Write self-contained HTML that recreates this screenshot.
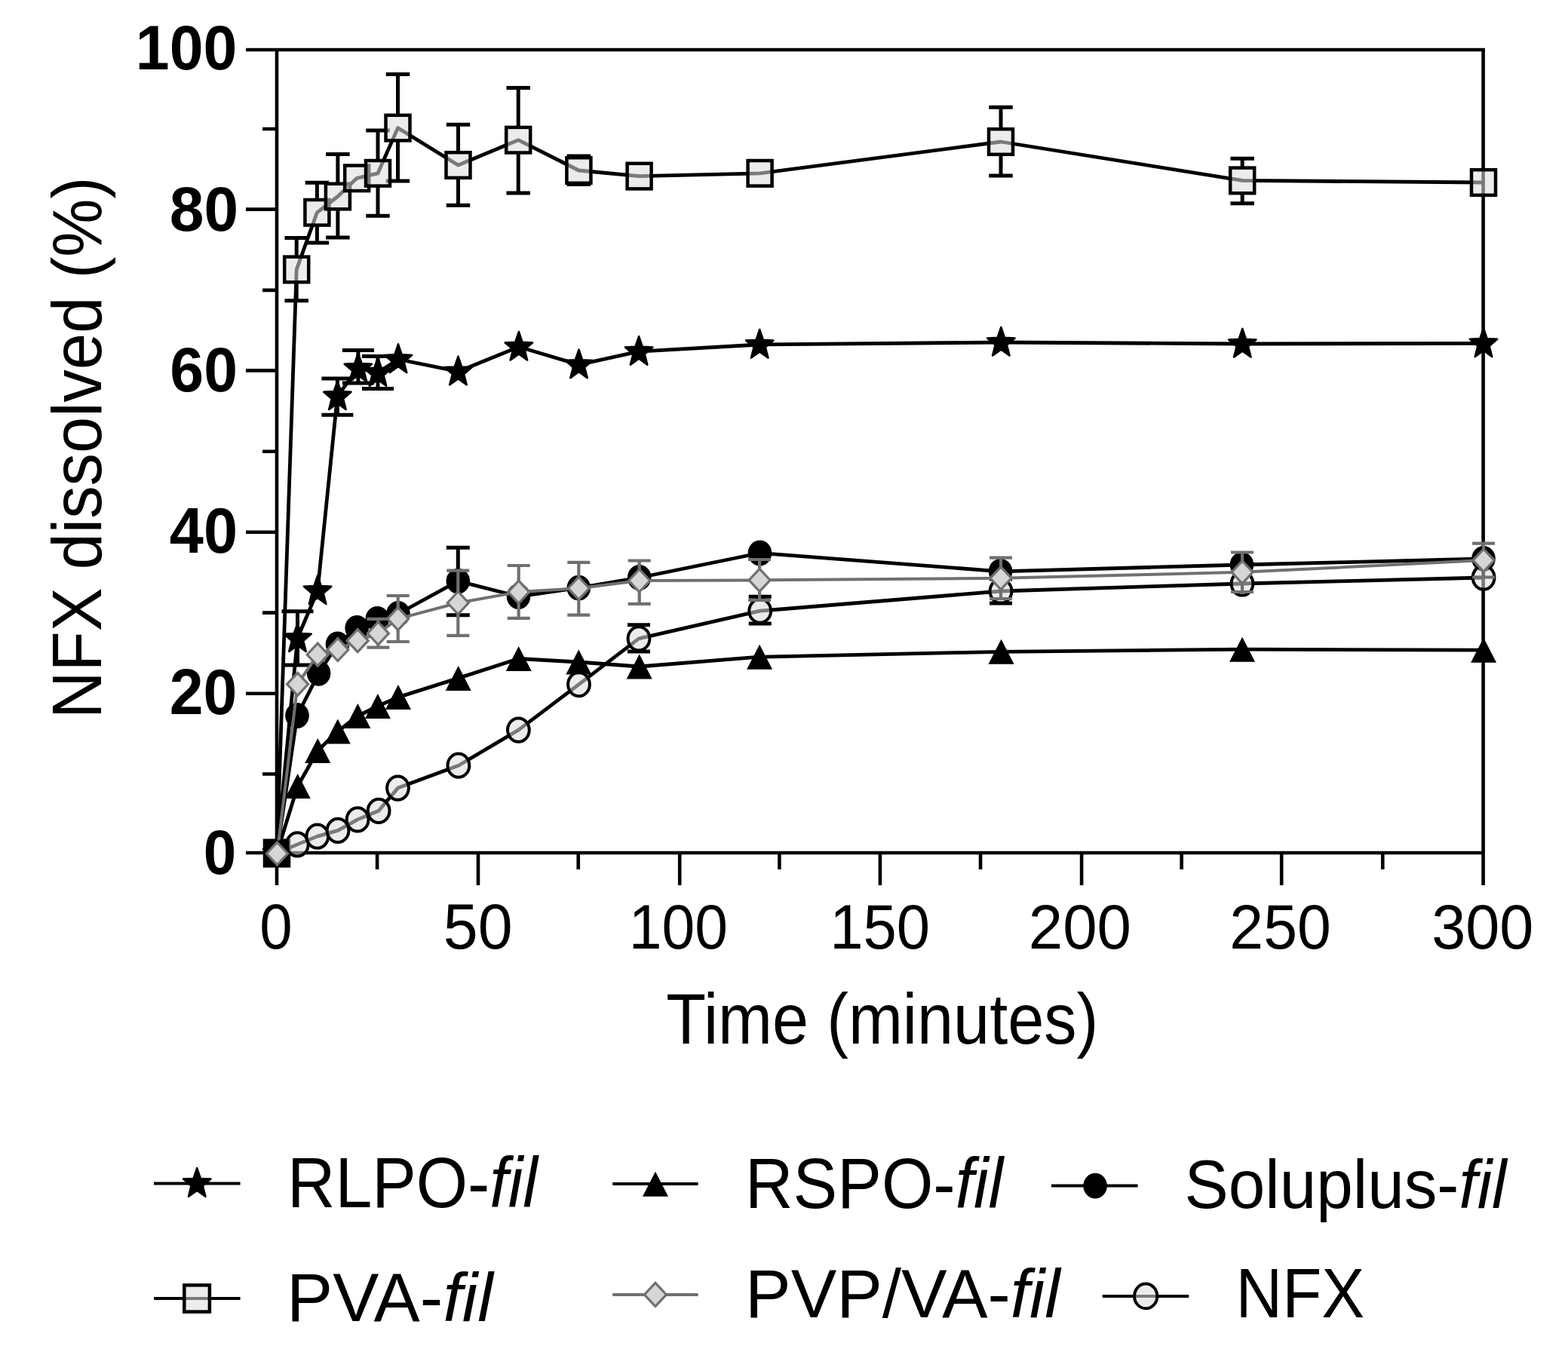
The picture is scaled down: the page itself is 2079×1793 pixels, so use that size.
<!DOCTYPE html>
<html><head><meta charset="utf-8"><title>NFX dissolution profile</title>
<style>html,body{margin:0;padding:0;background:#fff;width:2079px;height:1793px;overflow:hidden}svg{display:block;filter:blur(0.75px)}</style>
</head><body>
<svg xmlns="http://www.w3.org/2000/svg" width="2079" height="1793" viewBox="0 0 2079 1793">
<path d="M367,66 V1174 M326,66 H1969 M1966.6,63.7 V1174 M326,1131 H1966.6 M326,919.7 H367 M326,705.7 H367 M326,491.4 H367 M326,277.6 H367 M348,1026.55 H367 M348,812.65 H367 M348,598.75 H367 M348,384.85 H367 M348,170.95 H367 M634,1131 V1174 M901.2,1131 V1174 M1166.9,1131 V1174 M1434.1,1131 V1174 M1699.2,1131 V1174 M500.12,1131 V1153 M766.75,1131 V1153 M1033.39,1131 V1153 M1300.02,1131 V1153 M1566.66,1131 V1153 M1833.29,1131 V1153" fill="none" stroke="#000" stroke-width="4.6" stroke-linecap="butt"/>
<path d="M367,1131.5 L394.5,846.3 L421.1,783.4 L447.4,525.3 L474.9,488.3 L501,494.1 L528,476.5 L607.5,492.7 L687.9,460 L767.5,483.6 L847.1,466.1 L1007.2,457 L1327.3,454 L1647.3,456 L1967,455.4" fill="none" stroke="#000" stroke-width="4.8" stroke-linejoin="round"/>
<path d="M394.5,810.7 V881.9 M373.5,810.7 H415.5 M373.5,881.9 H415.5 M447.4,502 V550.3 M426.4,502 H468.4 M426.4,550.3 H468.4 M474.9,464.4 V508 M453.9,464.4 H495.9 M453.9,508 H495.9 M501,472.6 V515.6 M480,472.6 H522 M480,515.6 H522" fill="none" stroke="#000" stroke-width="5"/>
<path d="M367,1110.7 L371.91,1124.96 L385.9,1125.63 L374.94,1135.1 L378.68,1149.77 L367,1141.37 L355.32,1149.77 L359.06,1135.1 L348.1,1125.63 L362.09,1124.96Z" fill="#000" stroke="#000" stroke-width="2" stroke-linejoin="bevel"/>
<path d="M394.5,825.5 L399.41,839.76 L413.4,840.43 L402.44,849.9 L406.18,864.57 L394.5,856.17 L382.82,864.57 L386.56,849.9 L375.6,840.43 L389.59,839.76Z" fill="#000" stroke="#000" stroke-width="2" stroke-linejoin="bevel"/>
<path d="M421.1,762.6 L426.01,776.86 L440,777.53 L429.04,787 L432.78,801.67 L421.1,793.27 L409.42,801.67 L413.16,787 L402.2,777.53 L416.19,776.86Z" fill="#000" stroke="#000" stroke-width="2" stroke-linejoin="bevel"/>
<path d="M447.4,504.5 L452.31,518.76 L466.3,519.43 L455.34,528.9 L459.08,543.57 L447.4,535.17 L435.72,543.57 L439.46,528.9 L428.5,519.43 L442.49,518.76Z" fill="#000" stroke="#000" stroke-width="2" stroke-linejoin="bevel"/>
<path d="M474.9,467.5 L479.81,481.76 L493.8,482.43 L482.84,491.9 L486.58,506.57 L474.9,498.17 L463.22,506.57 L466.96,491.9 L456,482.43 L469.99,481.76Z" fill="#000" stroke="#000" stroke-width="2" stroke-linejoin="bevel"/>
<path d="M501,473.3 L505.91,487.56 L519.9,488.23 L508.94,497.7 L512.68,512.37 L501,503.97 L489.32,512.37 L493.06,497.7 L482.1,488.23 L496.09,487.56Z" fill="#000" stroke="#000" stroke-width="2" stroke-linejoin="bevel"/>
<path d="M528,455.7 L532.91,469.96 L546.9,470.63 L535.94,480.1 L539.68,494.77 L528,486.37 L516.32,494.77 L520.06,480.1 L509.1,470.63 L523.09,469.96Z" fill="#000" stroke="#000" stroke-width="2" stroke-linejoin="bevel"/>
<path d="M607.5,471.9 L612.41,486.16 L626.4,486.83 L615.44,496.3 L619.18,510.97 L607.5,502.57 L595.82,510.97 L599.56,496.3 L588.6,486.83 L602.59,486.16Z" fill="#000" stroke="#000" stroke-width="2" stroke-linejoin="bevel"/>
<path d="M687.9,439.2 L692.81,453.46 L706.8,454.13 L695.84,463.6 L699.58,478.27 L687.9,469.87 L676.22,478.27 L679.96,463.6 L669,454.13 L682.99,453.46Z" fill="#000" stroke="#000" stroke-width="2" stroke-linejoin="bevel"/>
<path d="M767.5,462.8 L772.41,477.06 L786.4,477.73 L775.44,487.2 L779.18,501.87 L767.5,493.47 L755.82,501.87 L759.56,487.2 L748.6,477.73 L762.59,477.06Z" fill="#000" stroke="#000" stroke-width="2" stroke-linejoin="bevel"/>
<path d="M847.1,445.3 L852.01,459.56 L866,460.23 L855.04,469.7 L858.78,484.37 L847.1,475.97 L835.42,484.37 L839.16,469.7 L828.2,460.23 L842.19,459.56Z" fill="#000" stroke="#000" stroke-width="2" stroke-linejoin="bevel"/>
<path d="M1007.2,436.2 L1012.11,450.46 L1026.1,451.13 L1015.14,460.6 L1018.88,475.27 L1007.2,466.87 L995.52,475.27 L999.26,460.6 L988.3,451.13 L1002.29,450.46Z" fill="#000" stroke="#000" stroke-width="2" stroke-linejoin="bevel"/>
<path d="M1327.3,433.2 L1332.21,447.46 L1346.2,448.13 L1335.24,457.6 L1338.98,472.27 L1327.3,463.87 L1315.62,472.27 L1319.36,457.6 L1308.4,448.13 L1322.39,447.46Z" fill="#000" stroke="#000" stroke-width="2" stroke-linejoin="bevel"/>
<path d="M1647.3,435.2 L1652.21,449.46 L1666.2,450.13 L1655.24,459.6 L1658.98,474.27 L1647.3,465.87 L1635.62,474.27 L1639.36,459.6 L1628.4,450.13 L1642.39,449.46Z" fill="#000" stroke="#000" stroke-width="2" stroke-linejoin="bevel"/>
<path d="M1967,434.6 L1971.91,448.86 L1985.9,449.53 L1974.94,459 L1978.68,473.67 L1967,465.27 L1955.32,473.67 L1959.06,459 L1948.1,449.53 L1962.09,448.86Z" fill="#000" stroke="#000" stroke-width="2" stroke-linejoin="bevel"/>
<path d="M367,1131.5 L394.7,1042.5 L421.3,995.6 L447.8,970 L474.4,949.5 L500.9,936.5 L528,924.6 L607.7,899.4 L687.7,873.5 L767.3,878 L847.7,884 L1007.1,871.2 L1327.5,864.3 L1647.1,861.2 L1967.1,862.2" fill="none" stroke="#000" stroke-width="4.8" stroke-linejoin="round"/>

<path d="M367,1115 L384,1148 L350,1148Z" fill="#000"/>
<path d="M394.7,1026 L411.7,1059 L377.7,1059Z" fill="#000"/>
<path d="M421.3,979.1 L438.3,1012.1 L404.3,1012.1Z" fill="#000"/>
<path d="M447.8,953.5 L464.8,986.5 L430.8,986.5Z" fill="#000"/>
<path d="M474.4,933 L491.4,966 L457.4,966Z" fill="#000"/>
<path d="M500.9,920 L517.9,953 L483.9,953Z" fill="#000"/>
<path d="M528,908.1 L545,941.1 L511,941.1Z" fill="#000"/>
<path d="M607.7,882.9 L624.7,915.9 L590.7,915.9Z" fill="#000"/>
<path d="M687.7,857 L704.7,890 L670.7,890Z" fill="#000"/>
<path d="M767.3,861.5 L784.3,894.5 L750.3,894.5Z" fill="#000"/>
<path d="M847.7,867.5 L864.7,900.5 L830.7,900.5Z" fill="#000"/>
<path d="M1007.1,854.7 L1024.1,887.7 L990.1,887.7Z" fill="#000"/>
<path d="M1327.5,847.8 L1344.5,880.8 L1310.5,880.8Z" fill="#000"/>
<path d="M1647.1,844.7 L1664.1,877.7 L1630.1,877.7Z" fill="#000"/>
<path d="M1967.1,845.7 L1984.1,878.7 L1950.1,878.7Z" fill="#000"/>
<path d="M367,1131.5 L394,949 L422.6,892.8 L447.5,854.5 L473.2,833 L500.3,820.8 L528,814 L607.3,770.6 L687.5,791 L767.3,779.6 L847.7,766 L1007.5,733.5 L1326.5,757.8 L1646.5,749 L1967,741" fill="none" stroke="#000" stroke-width="4.8" stroke-linejoin="round"/>
<path d="M607.3,726.3 V755.6 M607.3,785.6 V815.7 M591.8,726.3 H622.8 M591.8,815.7 H622.8" fill="none" stroke="#000" stroke-width="5"/>
<ellipse cx="367" cy="1131.5" rx="15.8" ry="16.9" fill="#000"/>
<ellipse cx="394" cy="949" rx="15.8" ry="16.9" fill="#000"/>
<ellipse cx="422.6" cy="892.8" rx="15.8" ry="16.9" fill="#000"/>
<ellipse cx="447.5" cy="854.5" rx="15.8" ry="16.9" fill="#000"/>
<ellipse cx="473.2" cy="833" rx="15.8" ry="16.9" fill="#000"/>
<ellipse cx="500.3" cy="820.8" rx="15.8" ry="16.9" fill="#000"/>
<ellipse cx="528" cy="814" rx="15.8" ry="16.9" fill="#000"/>
<ellipse cx="607.3" cy="770.6" rx="15.8" ry="16.9" fill="#000"/>
<ellipse cx="687.5" cy="791" rx="15.8" ry="16.9" fill="#000"/>
<ellipse cx="767.3" cy="779.6" rx="15.8" ry="16.9" fill="#000"/>
<ellipse cx="847.7" cy="766" rx="15.8" ry="16.9" fill="#000"/>
<ellipse cx="1007.5" cy="733.5" rx="15.8" ry="16.9" fill="#000"/>
<ellipse cx="1326.5" cy="757.8" rx="15.8" ry="16.9" fill="#000"/>
<ellipse cx="1646.5" cy="749" rx="15.8" ry="16.9" fill="#000"/>
<ellipse cx="1967" cy="741" rx="15.8" ry="16.9" fill="#000"/>
<path d="M367,1131.5 L393.2,357.4 L420.4,281.8 L447.9,260.5 L473.2,236.3 L501,229.8 L527.5,169.6 L607.5,219 L687.2,185.7 L767.4,226 L847.6,233.6 L1007.6,229.8 L1327,188 L1647.2,239.4 L1967,242" fill="none" stroke="#000" stroke-width="4.8" stroke-linejoin="round"/>
<path d="M393.2,315.4 V341.9 M393.2,372.9 V398.7 M377.45,315.4 H408.95 M377.45,398.7 H408.95 M420.4,242.2 V266.3 M420.4,297.3 V322 M404.65,242.2 H436.15 M404.65,322 H436.15 M447.9,204.6 V245 M447.9,276 V315 M432.15,204.6 H463.65 M432.15,315 H463.65 M501,172.9 V214.3 M501,245.3 V286.2 M485.25,172.9 H516.75 M485.25,286.2 H516.75 M527.5,98.5 V154.1 M527.5,185.1 V240 M511.75,98.5 H543.25 M511.75,240 H543.25 M607.5,165.2 V203.5 M607.5,234.5 V272.2 M591.75,165.2 H623.25 M591.75,272.2 H623.25 M687.2,116.6 V170.2 M687.2,201.2 V256 M671.45,116.6 H702.95 M671.45,256 H702.95 M767.4,207 V210.5 M767.4,241.5 V244.4 M751.65,207 H783.15 M751.65,244.4 H783.15 M1327,142.3 V172.5 M1327,203.5 V232.9 M1311.25,142.3 H1342.75 M1311.25,232.9 H1342.75 M1647.2,210.2 V223.9 M1647.2,254.9 V269.7 M1631.45,210.2 H1662.95 M1631.45,269.7 H1662.95" fill="none" stroke="#000" stroke-width="5"/>
<rect x="351" y="1114.7" width="32" height="33.6" fill="#dddddd" fill-opacity="0.553" stroke="#000" stroke-width="4.5"/>
<rect x="377.2" y="340.6" width="32" height="33.6" fill="#dddddd" fill-opacity="0.553" stroke="#000" stroke-width="4.5"/>
<rect x="404.4" y="265" width="32" height="33.6" fill="#dddddd" fill-opacity="0.553" stroke="#000" stroke-width="4.5"/>
<rect x="431.9" y="243.7" width="32" height="33.6" fill="#dddddd" fill-opacity="0.553" stroke="#000" stroke-width="4.5"/>
<rect x="457.2" y="219.5" width="32" height="33.6" fill="#dddddd" fill-opacity="0.553" stroke="#000" stroke-width="4.5"/>
<rect x="485" y="213" width="32" height="33.6" fill="#dddddd" fill-opacity="0.553" stroke="#000" stroke-width="4.5"/>
<rect x="511.5" y="152.8" width="32" height="33.6" fill="#dddddd" fill-opacity="0.553" stroke="#000" stroke-width="4.5"/>
<rect x="591.5" y="202.2" width="32" height="33.6" fill="#dddddd" fill-opacity="0.553" stroke="#000" stroke-width="4.5"/>
<rect x="671.2" y="168.9" width="32" height="33.6" fill="#dddddd" fill-opacity="0.553" stroke="#000" stroke-width="4.5"/>
<rect x="751.4" y="209.2" width="32" height="33.6" fill="#dddddd" fill-opacity="0.553" stroke="#000" stroke-width="4.5"/>
<rect x="831.6" y="216.8" width="32" height="33.6" fill="#dddddd" fill-opacity="0.553" stroke="#000" stroke-width="4.5"/>
<rect x="991.6" y="213" width="32" height="33.6" fill="#dddddd" fill-opacity="0.553" stroke="#000" stroke-width="4.5"/>
<rect x="1311" y="171.2" width="32" height="33.6" fill="#dddddd" fill-opacity="0.553" stroke="#000" stroke-width="4.5"/>
<rect x="1631.2" y="222.6" width="32" height="33.6" fill="#dddddd" fill-opacity="0.553" stroke="#000" stroke-width="4.5"/>
<rect x="1951" y="225.2" width="32" height="33.6" fill="#dddddd" fill-opacity="0.553" stroke="#000" stroke-width="4.5"/>
<path d="M367,1131.5 L394.3,1119.9 L420.8,1109.1 L448,1101.4 L474.1,1086.9 L502.1,1075.3 L527.5,1045.1 L607.9,1015.2 L687.4,968.1 L767.5,907.7 L847,846.9 L1007.7,810.2 L1327,784 L1647,774 L1967.1,766" fill="none" stroke="#000" stroke-width="4.8" stroke-linejoin="round"/>
<path d="M847,828.8 V831.9 M847,861.9 V864.1 M832,828.8 H862 M832,864.1 H862 M1007.7,791.2 V795.2 M1007.7,825.2 V827 M992.7,791.2 H1022.7 M992.7,827 H1022.7 M1327,768 V769 M1327,799 V800 M1312,768 H1342 M1312,800 H1342" fill="none" stroke="#000" stroke-width="5"/>
<ellipse cx="367" cy="1131.5" rx="14.4" ry="15.6" fill="#dddddd" fill-opacity="0.553" stroke="#000" stroke-width="4"/>
<ellipse cx="394.3" cy="1119.9" rx="14.4" ry="15.6" fill="#dddddd" fill-opacity="0.553" stroke="#000" stroke-width="4"/>
<ellipse cx="420.8" cy="1109.1" rx="14.4" ry="15.6" fill="#dddddd" fill-opacity="0.553" stroke="#000" stroke-width="4"/>
<ellipse cx="448" cy="1101.4" rx="14.4" ry="15.6" fill="#dddddd" fill-opacity="0.553" stroke="#000" stroke-width="4"/>
<ellipse cx="474.1" cy="1086.9" rx="14.4" ry="15.6" fill="#dddddd" fill-opacity="0.553" stroke="#000" stroke-width="4"/>
<ellipse cx="502.1" cy="1075.3" rx="14.4" ry="15.6" fill="#dddddd" fill-opacity="0.553" stroke="#000" stroke-width="4"/>
<ellipse cx="527.5" cy="1045.1" rx="14.4" ry="15.6" fill="#dddddd" fill-opacity="0.553" stroke="#000" stroke-width="4"/>
<ellipse cx="607.9" cy="1015.2" rx="14.4" ry="15.6" fill="#dddddd" fill-opacity="0.553" stroke="#000" stroke-width="4"/>
<ellipse cx="687.4" cy="968.1" rx="14.4" ry="15.6" fill="#dddddd" fill-opacity="0.553" stroke="#000" stroke-width="4"/>
<ellipse cx="767.5" cy="907.7" rx="14.4" ry="15.6" fill="#dddddd" fill-opacity="0.553" stroke="#000" stroke-width="4"/>
<ellipse cx="847" cy="846.9" rx="14.4" ry="15.6" fill="#dddddd" fill-opacity="0.553" stroke="#000" stroke-width="4"/>
<ellipse cx="1007.7" cy="810.2" rx="14.4" ry="15.6" fill="#dddddd" fill-opacity="0.553" stroke="#000" stroke-width="4"/>
<ellipse cx="1327" cy="784" rx="14.4" ry="15.6" fill="#dddddd" fill-opacity="0.553" stroke="#000" stroke-width="4"/>
<ellipse cx="1647" cy="774" rx="14.4" ry="15.6" fill="#dddddd" fill-opacity="0.553" stroke="#000" stroke-width="4"/>
<ellipse cx="1967.1" cy="766" rx="14.4" ry="15.6" fill="#dddddd" fill-opacity="0.553" stroke="#000" stroke-width="4"/>
<path d="M367.5,1132 L394.6,907.3 L421.2,868.2 L447.9,861.5 L474.2,849.7 L501.4,840 L527.7,820.6 L607.3,799.5 L687.7,785.1 L767.3,780.2 L847.7,770 L1007.1,769.4 L1327,766.8 L1647.1,758.8 L1967.1,743.1" fill="none" stroke="#707070" stroke-width="4" stroke-linejoin="round"/>
<path d="M501.4,820.8 V826 M501.4,854 V858.7 M486.4,820.8 H516.4 M486.4,858.7 H516.4 M527.7,790 V806.6 M527.7,834.6 V851 M512.7,790 H542.7 M512.7,851 H542.7 M607.3,756.6 V785.5 M607.3,813.5 V842.8 M592.3,756.6 H622.3 M592.3,842.8 H622.3 M687.7,750 V771.1 M687.7,799.1 V819.8 M672.7,750 H702.7 M672.7,819.8 H702.7 M767.3,745.9 V766.2 M767.3,794.2 V815.7 M752.3,745.9 H782.3 M752.3,815.7 H782.3 M847.7,743.5 V756 M847.7,784 V800.9 M832.7,743.5 H862.7 M832.7,800.9 H862.7 M1007.1,742 V755.4 M1007.1,783.4 V796 M992.1,742 H1022.1 M992.1,796 H1022.1 M1327,739.6 V752.8 M1327,780.8 V794 M1312,739.6 H1342 M1312,794 H1342 M1647.1,732.5 V744.8 M1647.1,772.8 V785 M1632.1,732.5 H1662.1 M1632.1,785 H1662.1 M1967.1,720.7 V729.1 M1967.1,757.1 V765.5 M1952.1,720.7 H1982.1 M1952.1,765.5 H1982.1" fill="none" stroke="#707070" stroke-width="4.2"/>
<path d="M367.5,1117 L381.5,1132 L367.5,1147 L353.5,1132Z" fill="#d6d6d6" stroke="#707070" stroke-width="3.2"/>
<path d="M394.6,892.3 L408.6,907.3 L394.6,922.3 L380.6,907.3Z" fill="#d6d6d6" stroke="#707070" stroke-width="3.2"/>
<path d="M421.2,853.2 L435.2,868.2 L421.2,883.2 L407.2,868.2Z" fill="#d6d6d6" stroke="#707070" stroke-width="3.2"/>
<path d="M447.9,846.5 L461.9,861.5 L447.9,876.5 L433.9,861.5Z" fill="#d6d6d6" stroke="#707070" stroke-width="3.2"/>
<path d="M474.2,834.7 L488.2,849.7 L474.2,864.7 L460.2,849.7Z" fill="#d6d6d6" stroke="#707070" stroke-width="3.2"/>
<path d="M501.4,825 L515.4,840 L501.4,855 L487.4,840Z" fill="#d6d6d6" stroke="#707070" stroke-width="3.2"/>
<path d="M527.7,805.6 L541.7,820.6 L527.7,835.6 L513.7,820.6Z" fill="#d6d6d6" stroke="#707070" stroke-width="3.2"/>
<path d="M607.3,784.5 L621.3,799.5 L607.3,814.5 L593.3,799.5Z" fill="#d6d6d6" stroke="#707070" stroke-width="3.2"/>
<path d="M687.7,770.1 L701.7,785.1 L687.7,800.1 L673.7,785.1Z" fill="#d6d6d6" stroke="#707070" stroke-width="3.2"/>
<path d="M767.3,765.2 L781.3,780.2 L767.3,795.2 L753.3,780.2Z" fill="#d6d6d6" stroke="#707070" stroke-width="3.2"/>
<path d="M847.7,755 L861.7,770 L847.7,785 L833.7,770Z" fill="#d6d6d6" stroke="#707070" stroke-width="3.2"/>
<path d="M1007.1,754.4 L1021.1,769.4 L1007.1,784.4 L993.1,769.4Z" fill="#d6d6d6" stroke="#707070" stroke-width="3.2"/>
<path d="M1327,751.8 L1341,766.8 L1327,781.8 L1313,766.8Z" fill="#d6d6d6" stroke="#707070" stroke-width="3.2"/>
<path d="M1647.1,743.8 L1661.1,758.8 L1647.1,773.8 L1633.1,758.8Z" fill="#d6d6d6" stroke="#707070" stroke-width="3.2"/>
<path d="M1967.1,728.1 L1981.1,743.1 L1967.1,758.1 L1953.1,743.1Z" fill="#d6d6d6" stroke="#707070" stroke-width="3.2"/>
<rect x="350.5" y="1114.5" width="33" height="34" fill="#000"/>
<path d="M367.5,1117 L381.5,1132 L367.5,1147 L353.5,1132Z" fill="#d6d6d6" stroke="#707070" stroke-width="3.2"/>
<path d="M204,1569.6 H318.6" stroke="#000" stroke-width="4"/>
<path d="M261.2,1548.4 L266.11,1562.66 L280.1,1563.33 L269.14,1572.8 L272.88,1587.47 L261.2,1579.07 L249.52,1587.47 L253.26,1572.8 L242.3,1563.33 L256.29,1562.66Z" fill="#000" stroke="#000" stroke-width="2" stroke-linejoin="bevel"/>
<path d="M812.2,1570 H925.6" stroke="#000" stroke-width="4"/>
<path d="M869,1553.8 L886,1586.8 L852,1586.8Z" fill="#000"/>
<path d="M1394,1572.6 H1508.6" stroke="#000" stroke-width="4"/>
<ellipse cx="1452.1" cy="1572.6" rx="15.8" ry="16.9" fill="#000"/>
<path d="M204,1722 H318.6" stroke="#000" stroke-width="4"/>
<rect x="244.3" y="1704.36" width="33.6" height="35.28" fill="#dddddd" fill-opacity="0.553" stroke="#000" stroke-width="4.5"/>
<path d="M812.2,1716.9 H925.6" stroke="#707070" stroke-width="4"/>
<path d="M868.9,1701.3 L883.46,1716.9 L868.9,1732.5 L854.34,1716.9Z" fill="#d6d6d6" stroke="#707070" stroke-width="3.2"/>
<path d="M1461.7,1718.9 H1576.3" stroke="#000" stroke-width="4"/>
<ellipse cx="1519.2" cy="1718.9" rx="15.12" ry="16.38" fill="#dddddd" fill-opacity="0.553" stroke="#000" stroke-width="4"/>
<text x="179.83" y="92.17" font-family='"Liberation Sans", Arial, Helvetica, sans-serif' font-size="84.04" font-weight="bold" textLength="134.49" lengthAdjust="spacingAndGlyphs">100</text>
<text x="224.8" y="305.66" font-family='"Liberation Sans", Arial, Helvetica, sans-serif' font-size="84.05" font-weight="bold" textLength="91.27" lengthAdjust="spacingAndGlyphs">80</text>
<text x="225.33" y="519.17" font-family='"Liberation Sans", Arial, Helvetica, sans-serif' font-size="84.04" font-weight="bold" textLength="89.65" lengthAdjust="spacingAndGlyphs">60</text>
<text x="224.79" y="732.66" font-family='"Liberation Sans", Arial, Helvetica, sans-serif' font-size="84.76" font-weight="bold" textLength="90.26" lengthAdjust="spacingAndGlyphs">40</text>
<text x="224.76" y="946.65" font-family='"Liberation Sans", Arial, Helvetica, sans-serif' font-size="84.79" font-weight="bold" textLength="89.65" lengthAdjust="spacingAndGlyphs">20</text>
<text x="269.83" y="1159.17" font-family='"Liberation Sans", Arial, Helvetica, sans-serif' font-size="84.04" font-weight="bold" textLength="43.5" lengthAdjust="spacingAndGlyphs">0</text>
<text x="344.29" y="1257.66" font-family='"Liberation Sans", Arial, Helvetica, sans-serif' font-size="84.76" textLength="43.42" lengthAdjust="spacingAndGlyphs">0</text>
<text x="587.77" y="1257.65" font-family='"Liberation Sans", Arial, Helvetica, sans-serif' font-size="85.47" textLength="91.82" lengthAdjust="spacingAndGlyphs">50</text>
<text x="833.83" y="1258.17" font-family='"Liberation Sans", Arial, Helvetica, sans-serif' font-size="83.33" textLength="131.23" lengthAdjust="spacingAndGlyphs">100</text>
<text x="1100.3" y="1258.16" font-family='"Liberation Sans", Arial, Helvetica, sans-serif' font-size="84.05" textLength="132.86" lengthAdjust="spacingAndGlyphs">150</text>
<text x="1363.8" y="1258.16" font-family='"Liberation Sans", Arial, Helvetica, sans-serif' font-size="84.07" textLength="136.16" lengthAdjust="spacingAndGlyphs">200</text>
<text x="1630.3" y="1258.16" font-family='"Liberation Sans", Arial, Helvetica, sans-serif' font-size="84.07" textLength="134.55" lengthAdjust="spacingAndGlyphs">250</text>
<text x="1898.3" y="1258.16" font-family='"Liberation Sans", Arial, Helvetica, sans-serif' font-size="84.05" textLength="135.1" lengthAdjust="spacingAndGlyphs">300</text>
<text x="883.37" y="1384" font-family='"Liberation Sans", Arial, Helvetica, sans-serif' font-size="94.49" textLength="572.81" lengthAdjust="spacingAndGlyphs">Time (minutes)</text>
<text x="380.98" y="1600.5" font-family='"Liberation Sans", Arial, Helvetica, sans-serif' font-size="93.8" textLength="331.79" lengthAdjust="spacingAndGlyphs">RLPO-<tspan font-style="italic">fil</tspan></text>
<text x="988.01" y="1602" font-family='"Liberation Sans", Arial, Helvetica, sans-serif' font-size="94.53" textLength="342.16" lengthAdjust="spacingAndGlyphs">RSPO-<tspan font-style="italic">fil</tspan></text>
<text x="1570.55" y="1602" font-family='"Liberation Sans", Arial, Helvetica, sans-serif' font-size="90.22" textLength="426.94" lengthAdjust="spacingAndGlyphs">Soluplus-<tspan font-style="italic">fil</tspan></text>
<text x="380.01" y="1752" font-family='"Liberation Sans", Arial, Helvetica, sans-serif' font-size="91.58" textLength="273.64" lengthAdjust="spacingAndGlyphs">PVA-<tspan font-style="italic">fil</tspan></text>
<text x="988.06" y="1746.5" font-family='"Liberation Sans", Arial, Helvetica, sans-serif' font-size="90.89" textLength="417.38" lengthAdjust="spacingAndGlyphs">PVP/VA-<tspan font-style="italic">fil</tspan></text>
<text x="1638.52" y="1746.5" font-family='"Liberation Sans", Arial, Helvetica, sans-serif' font-size="92.35" textLength="170.72" lengthAdjust="spacingAndGlyphs">NFX</text>
<text transform="translate(134,953.03) rotate(-90)" x="0" y="0" font-family='"Liberation Sans", Arial, Helvetica, sans-serif' font-size="93.03" textLength="718.39" lengthAdjust="spacingAndGlyphs">NFX dissolved (%)</text>
</svg>
</body></html>
